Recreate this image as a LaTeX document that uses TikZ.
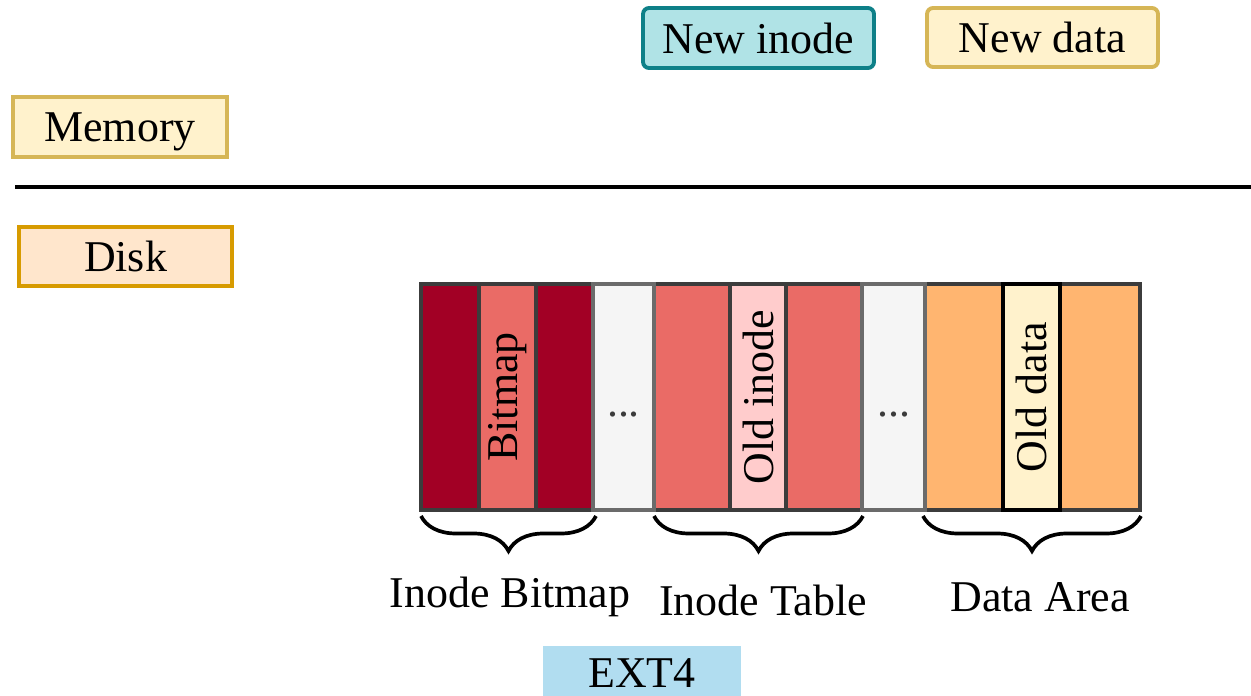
\documentclass[tikz,border=0pt]{standalone}
\usepackage{fontspec}
\setmainfont{Liberation Serif}
\usetikzlibrary{decorations.pathreplacing}
\definecolor{tealfill}{HTML}{B0E3E6}
\definecolor{tealedge}{HTML}{0E8088}
\definecolor{yelfill}{HTML}{FFF2CC}
\definecolor{yeledge}{HTML}{D6B656}
\definecolor{orfill}{HTML}{FFE6CC}
\definecolor{oredge}{HTML}{D79B00}
\definecolor{darkred}{HTML}{A20025}
\definecolor{salmon}{HTML}{EA6B66}
\definecolor{pinkish}{HTML}{FFCCCC}
\definecolor{orange}{HTML}{FFB570}
\definecolor{lightgray}{HTML}{F5F5F5}
\definecolor{grayedge}{HTML}{6B6B6B}
\definecolor{blkedge}{HTML}{3C3C3C}
\definecolor{extfill}{HTML}{B1DDF0}
\begin{document}
\begin{tikzpicture}[x=0.02cm, y=-0.02cm,
  font=\fontsize{25}{30}\selectfont,
  tag/.style={draw, line width=2.2pt, inner sep=0pt, text depth=0pt},
  roundtag/.style={tag, rounded corners=0.12cm},
  blk/.style={draw=blkedge, line width=2.8pt, minimum height=4.52cm, inner sep=0pt},
  gapblk/.style={blk, draw=grayedge, fill=lightgray},
  curly/.style={decorate, decoration={brace, mirror, amplitude=0.7cm}, line width=2.1pt},
  dotsfont/.style={text=blkedge, anchor=base}
]
\useasboundingbox (0,0) rectangle (1251,696);

% memory-side objects
\node[roundtag, draw=tealedge, fill=tealfill, minimum width=4.62cm, minimum height=1.2cm] (newinode) at (758.5,38) {New inode};
\node[roundtag, draw=yeledge, fill=yelfill, minimum width=4.62cm, minimum height=1.18cm] (newdata) at (1042.5,37.5) {New data};
\node[tag, draw=yeledge, fill=yelfill, minimum width=4.28cm, minimum height=1.2cm] (memory) at (120,127) {Memory};

% memory / disk separator
\coordinate (sepL) at (15,187);
\coordinate (sepR) at (1251,187);
\draw[line width=2.8pt] (sepL) -- (sepR);

\node[tag, draw=oredge, fill=orfill, minimum width=4.26cm, minimum height=1.18cm] (disk) at (125.5,256.5) {Disk};

% on-disk layout: inode bitmap
\node[blk, fill=darkred, minimum width=1.16cm] (b1) at (450,397) {};
\node[blk, fill=salmon, minimum width=1.14cm] (b2) at (507.5,397) {};
\node[blk, fill=darkred, minimum width=1.14cm] (b3) at (564.5,397) {};
% inode table
\node[blk, fill=salmon, minimum width=1.52cm] (t1) at (692,397) {};
\node[blk, fill=pinkish, minimum width=1.12cm] (t2) at (758,397) {};
\node[blk, fill=salmon, minimum width=1.52cm] (t3) at (824,397) {};
% data area
\node[blk, fill=orange, minimum width=1.56cm] (d1) at (964,397) {};
\node[blk, fill=orange, minimum width=1.6cm] (d3) at (1100,397) {};
% gaps between regions
\node[gapblk, minimum width=1.22cm] (g1) at (623.5,397) {};
\node[gapblk, minimum width=1.26cm] (g2) at (893.5,397) {};
\node[dotsfont] (g1dots) at (623.5,416) {...};
\node[dotsfont] (g2dots) at (893.5,416) {...};
% old data block on top
\node[blk, draw=black, fill=yelfill, minimum width=1.14cm] (d2) at (1031.5,397) {};

% rotated labels
\node[rotate=90] (b2lbl) at (b2.center) {Bitmap};
\node[rotate=90] (t2lbl) at (t2.center) {Old inode};
\node[rotate=90] (d2lbl) at (d2.center) {Old data};

% braces under each region
\coordinate (brA1) at (421,516);
\coordinate (brA2) at (596,516);
\coordinate (brB1) at (654,516);
\coordinate (brB2) at (863,516);
\coordinate (brC1) at (923,516);
\coordinate (brC2) at (1141,516);
\draw[curly] (brA1) -- (brA2);
\draw[curly] (brB1) -- (brB2);
\draw[curly] (brC1) -- (brC2);

\node (lblbitmap) at (510,597) {Inode Bitmap};
\node (lbltable) at (763,600) {Inode Table};
\node (lbldata) at (1040,597) {Data Area};

\node[fill=extfill, minimum width=3.96cm, minimum height=1.08cm, inner sep=0pt, text depth=0pt] (ext4) at (642,673) {EXT4};
\end{tikzpicture}
\end{document}
